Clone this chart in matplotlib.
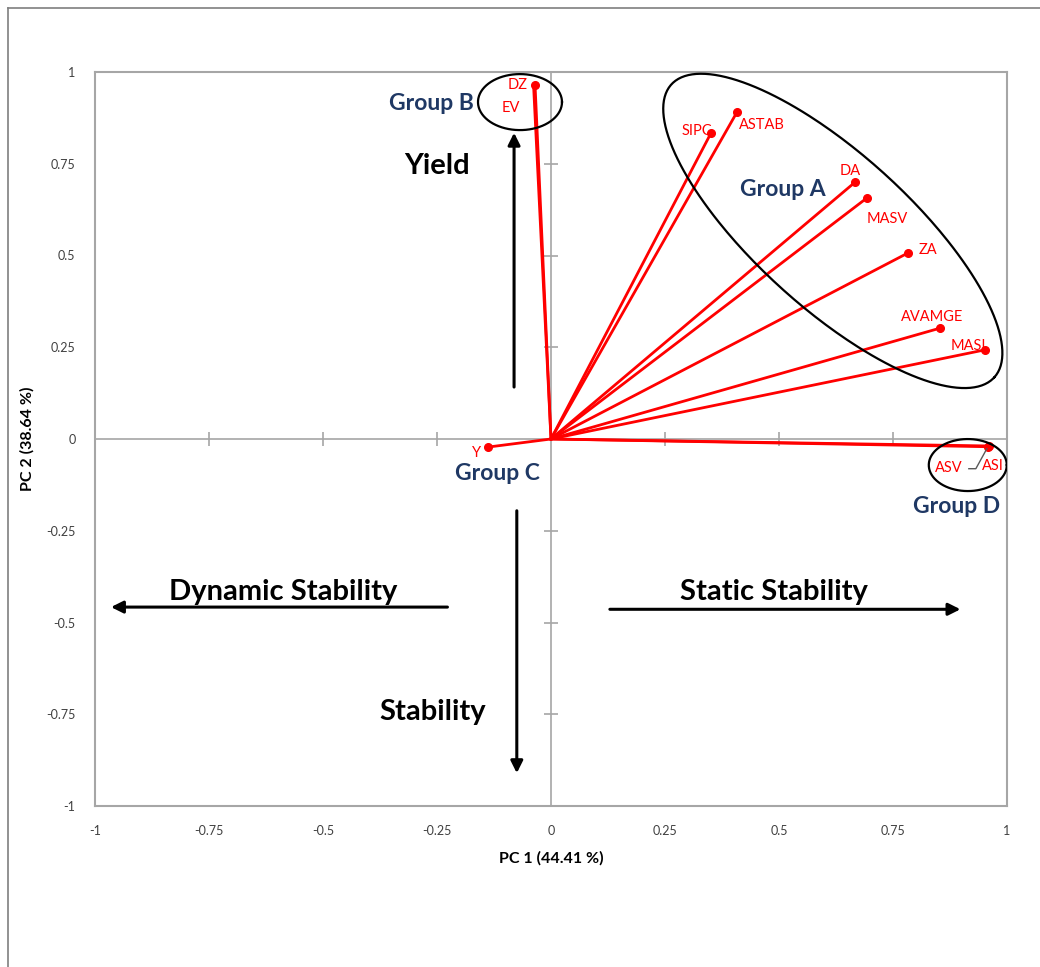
import numpy as np
import matplotlib.pyplot as plt
from matplotlib.lines import Line2D

# --- Data (loadings) ---
variables = ["DZ", "EV", "SIPC", "ASTAB", "DA", "MASV", "ZA", "AVAMGE", "MASI", "ASI", "ASV", "Y"]
pc1 = [-0.035, -0.038, 0.351, 0.408, 0.667, 0.693, 0.783, 0.853, 0.952, 0.961, 0.958, -0.138]
pc2 = [0.965, 0.958, 0.834, 0.891, 0.700, 0.657, 0.507, 0.302, 0.243, -0.019, -0.021, -0.022]

ticks = [-1, -0.75, -0.5, -0.25, 0, 0.25, 0.5, 0.75, 1]
tick_labels = ["-1", "-0.75", "-0.5", "-0.25", "0", "0.25", "0.5", "0.75", "1"]

# label offsets in pixels (dx, dy)
label_offsets = {
    "DZ": (-17, 0), "EV": (-23, -21), "SIPC": (-14, 2), "ASTAB": (25, -13),
    "DA": (-5, 11), "MASV": (20, -21), "ZA": (20, 3), "AVAMGE": (-8, 11),
    "MASI": (-17, 4), "ASI": (4, -20), "ASV": (-39, -21), "Y": (-12, -6),
}

RED = "#ff0000"
NAVY = "#1f3864"
GREY = "#a6a6a6"
plt.rcParams['font.family'] = ['Lato', 'DejaVu Sans']

fig = plt.figure(figsize=(10.4, 9.67), dpi=100)
W, H = 1040, 967
ax = fig.add_axes([95 / W, (H - 806) / H, 912 / W, 734 / H])
ax.set_xlim(-1, 1)
ax.set_ylim(-1, 1)
sx = 912 / 2.0   # pixels per data unit
sy = 734 / 2.0

# outer page border
fig.add_artist(Line2D([8 / W, 8 / W], [0, 1 - 8 / H], color="#7f7f7f", lw=1.2))
fig.add_artist(Line2D([8 / W, 1], [1 - 8 / H, 1 - 8 / H], color="#7f7f7f", lw=1.2))

for s in ax.spines.values():
    s.set_color(GREY)
    s.set_linewidth(1.5)
ax.set_xticks(ticks)
ax.set_xticklabels(tick_labels)
ax.set_yticks(ticks)
ax.set_yticklabels(tick_labels)
ax.tick_params(length=0, labelsize=9, pad=14, colors="#404040")

# axes through origin with cross ticks
ax.axhline(0, color=GREY, lw=1.2, zorder=1)
ax.axvline(0, color=GREY, lw=1.2, zorder=1)
inner = [t for t in ticks if t not in (-1, 0, 1)]
ax.plot(inner, [0] * len(inner), ls="none", marker="|", ms=10, color=GREY, mew=1.2, zorder=1)
ax.plot([0] * len(inner), inner, ls="none", marker="_", ms=10, color=GREY, mew=1.2, zorder=1)

ax.set_xlabel("PC 1 (44.41 %)", fontsize=11.5, fontweight="bold", labelpad=10)
ax.set_ylabel("PC 2 (38.64 %)", fontsize=11.5, fontweight="bold", labelpad=8)

# loading vectors
for name, x, y in zip(variables, pc1, pc2):
    ax.plot([0, x], [0, y], color=RED, lw=2, zorder=3)
    if name != "EV":
        ax.plot(x, y, "o", color=RED, ms=5.5, zorder=4)
    dx, dy = label_offsets[name]
    ax.annotate(name, (x, y), xytext=(dx, dy), textcoords="offset pixels",
                ha="center", va="center", color=RED, fontsize=10.5)
    if name == "ASV":
        # small leader from the ASV label to its point
        lx = np.array([-19, -12, -1])
        ly = np.array([-22, -22, -2])
        ax.plot(x + lx / sx, y + ly / sy, color="#595959", lw=1, zorder=4)


# group ellipses drawn in pixel space so rotation looks right
def ellipse(cx, cy, a, b, ang):
    t = np.linspace(0, 2 * np.pi, 300)
    phi = np.deg2rad(ang)
    ex = a * np.cos(t) * np.cos(phi) - b * np.sin(t) * np.sin(phi)
    ey = a * np.cos(t) * np.sin(phi) + b * np.sin(t) * np.cos(phi)
    ax.plot(cx + ex / sx, cy + ey / sy, color="black", lw=1.6, zorder=5)


ellipse(-0.068, 0.918, 42, 28, 0)
ellipse(0.618, 0.567, 218, 77, -42.2)
ellipse(0.914, -0.071, 39, 26, 0)

# group labels
gfont = dict(fontsize=16.5, fontweight="bold", color=NAVY, ha="center", va="center")
ax.text(-0.262, 0.914, "Group B", **gfont)
ax.text(0.508, 0.680, "Group A", **gfont)
ax.text(-0.118, -0.094, "Group C", **gfont)
ax.text(0.890, -0.183, "Group D", **gfont)

# direction arrows and captions
tfont = dict(fontsize=21, fontweight="bold", color="black", ha="center", va="center")
ax.text(-0.251, 0.744, "Yield", **tfont)
ax.text(-0.260, -0.744, "Stability", **tfont)
ax.text(-0.587, -0.418, "Dynamic Stability", **tfont)
ax.text(0.489, -0.418, "Static Stability", **tfont)

arw = dict(arrowstyle="-|>", color="black", lw=2.2, mutation_scale=18)
ax.annotate("", xy=(-0.081, 0.842), xytext=(-0.081, 0.134), arrowprops=arw)
ax.annotate("", xy=(-0.075, -0.918), xytext=(-0.075, -0.188), arrowprops=arw)
ax.annotate("", xy=(-0.971, -0.458), xytext=(-0.221, -0.458), arrowprops=arw)
ax.annotate("", xy=(0.904, -0.464), xytext=(0.123, -0.464), arrowprops=arw)

fig.savefig("out.png", dpi=100)
